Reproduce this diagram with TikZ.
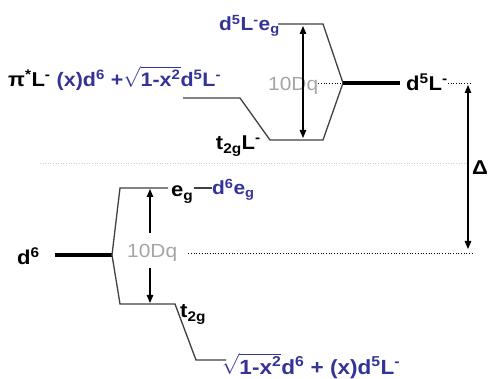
\documentclass[tikz,border=0pt]{standalone}
\usepackage{amsmath}
\usepackage{fontspec}
\setmainfont{Liberation Sans}[FakeStretch=1.1]
\usetikzlibrary{arrows.meta,positioning,calc}
\definecolor{lblblue}{RGB}{52,52,150}
\definecolor{dqgray}{RGB}{165,165,165}
\newcommand{\up}[1]{\textsuperscript{#1}}
\newcommand{\dn}[1]{\textsubscript{#1}}

\begin{document}
\begin{tikzpicture}[x=1pt,y=-1pt,
  >={Triangle[width=6.5pt,length=8pt]},
  lvl/.style={line width=1.3pt,draw=black!75},
  thk/.style={line width=4pt},
  arr/.style={line width=1.1pt},
  blk/.style={inner sep=0pt,font=\fontsize{20}{24}\selectfont\bfseries},
  blu/.style={inner sep=0pt,text=lblblue,font=\fontsize{19}{22}\selectfont\bfseries},
  dq/.style={inner sep=0pt,text=dqgray,font=\fontsize{19}{22}\selectfont},
  dotline/.style={dotted,line width=0.7pt}]
  \useasboundingbox (0,0) rectangle (490,379);

  % 上: d5L- の分裂
  \coordinate (cT) at (343,83);
  \coordinate (egTl) at (278,24);  \coordinate (egTr) at (323,24);
  \coordinate (tTl) at (270,140);  \coordinate (tTr) at (323,140);
  \coordinate (piL) at (183,98);   \coordinate (piR) at (240,98);
  \draw[lvl] (egTl) -- (egTr) -- (cT) -- (tTr) -- (tTl) -- (piR) -- (piL);
  \draw[thk] (cT) -- (400,83) coordinate (d5R);
  \node[blk,anchor=base west] (d5) at (406,91) {d\up{5}L\up{-}};
  \node[blu,anchor=base west] (d5eg) at (219,31) {d\up{5}L\up{-}e\dn{g}};
  \node[blk,anchor=base east] (t2gL) at (261,150) {t\dn{2g}L\up{-}};
  \node[blk,anchor=base west] (pi) at (8,87)
    {π\up{*}L\up{-} \textcolor{lblblue}{\fontsize{19.5}{22}\selectfont(x)d\up{6} +$\sqrt{\text{1-x\up{2}}}$d\up{5}L\up{-}}};
  \node[dq,anchor=base west] (dqT) at (268,91) {10Dq};
  \draw[dotline] (dqT.east |- cT) -- (cT);
  \coordinate (dR) at (470,83);
  \draw[dotline] (d5.east |- cT) -- (dR);
  \coordinate (aT1) at (303,26);
  \coordinate (aT2) at (303,138);
  \draw[arr,<->] (aT1) -- (aT2);

  % 中央の区切りと Δ
  \coordinate (sepL) at (40,163);
  \coordinate (sepR) at (468,163);
  \draw[dotted,line width=0.6pt,black!20] (sepL) -- (sepR);
  \coordinate (dA1) at (468,85);
  \coordinate (dA2) at (468,249);
  \draw[arr,<->] (dA1) -- (dA2);
  \node[blk,anchor=base west] (delta) at (472,175) {Δ};

  % 下: d6 の分裂
  \coordinate (cB) at (112,255);
  \coordinate (egBl) at (120,188);  \coordinate (egBr) at (168,188);
  \coordinate (tBl) at (120,304);   \coordinate (tBr) at (175,304);
  \coordinate (bL) at (196,360);    \coordinate (bR) at (226,360);
  \draw[thk] (55,255) -- (cB);
  \draw[lvl] (egBr) -- (egBl) -- (cB) -- (tBl) -- (tBr) -- (bL) -- (bR);
  \node[blk,anchor=base west] (d6) at (17,265) {d\up{6}};
  \node[blk,anchor=base west] (egB) at (171,197) {e\dn{g}};
  \node[blu,anchor=base west] (d6eg) at (212,195) {d\up{6}e\dn{g}};
  \draw[lvl] (egB.east |- egBr) -- (d6eg.west |- egBr);
  \node[blk,anchor=base west] (t2gB) at (180,318) {t\dn{2g}};
  \node[blu,anchor=base west,font=\fontsize{20.5}{24}\selectfont\bfseries] (mixB) at (222,374)
    {$\sqrt{\text{1-x\up{2}}}$d\up{6} + (x)d\up{5}L\up{-}};
  \node[dq,anchor=base west] (dqB) at (127,258) {10Dq};
  \coordinate (aB1) at (150,189);
  \coordinate (aB2) at (150,303);
  \draw[arr,->] (dqB.north -| aB1) ++(0,-12) -- (aB1);
  \draw[arr,->] (dqB.south -| aB2) ++(0,6) -- (aB2);
  \coordinate (dotB) at (473,253);
  \draw[dotline] (dqB.east |- dotB) ++(11,0) -- (dotB);
\end{tikzpicture}
\end{document}
